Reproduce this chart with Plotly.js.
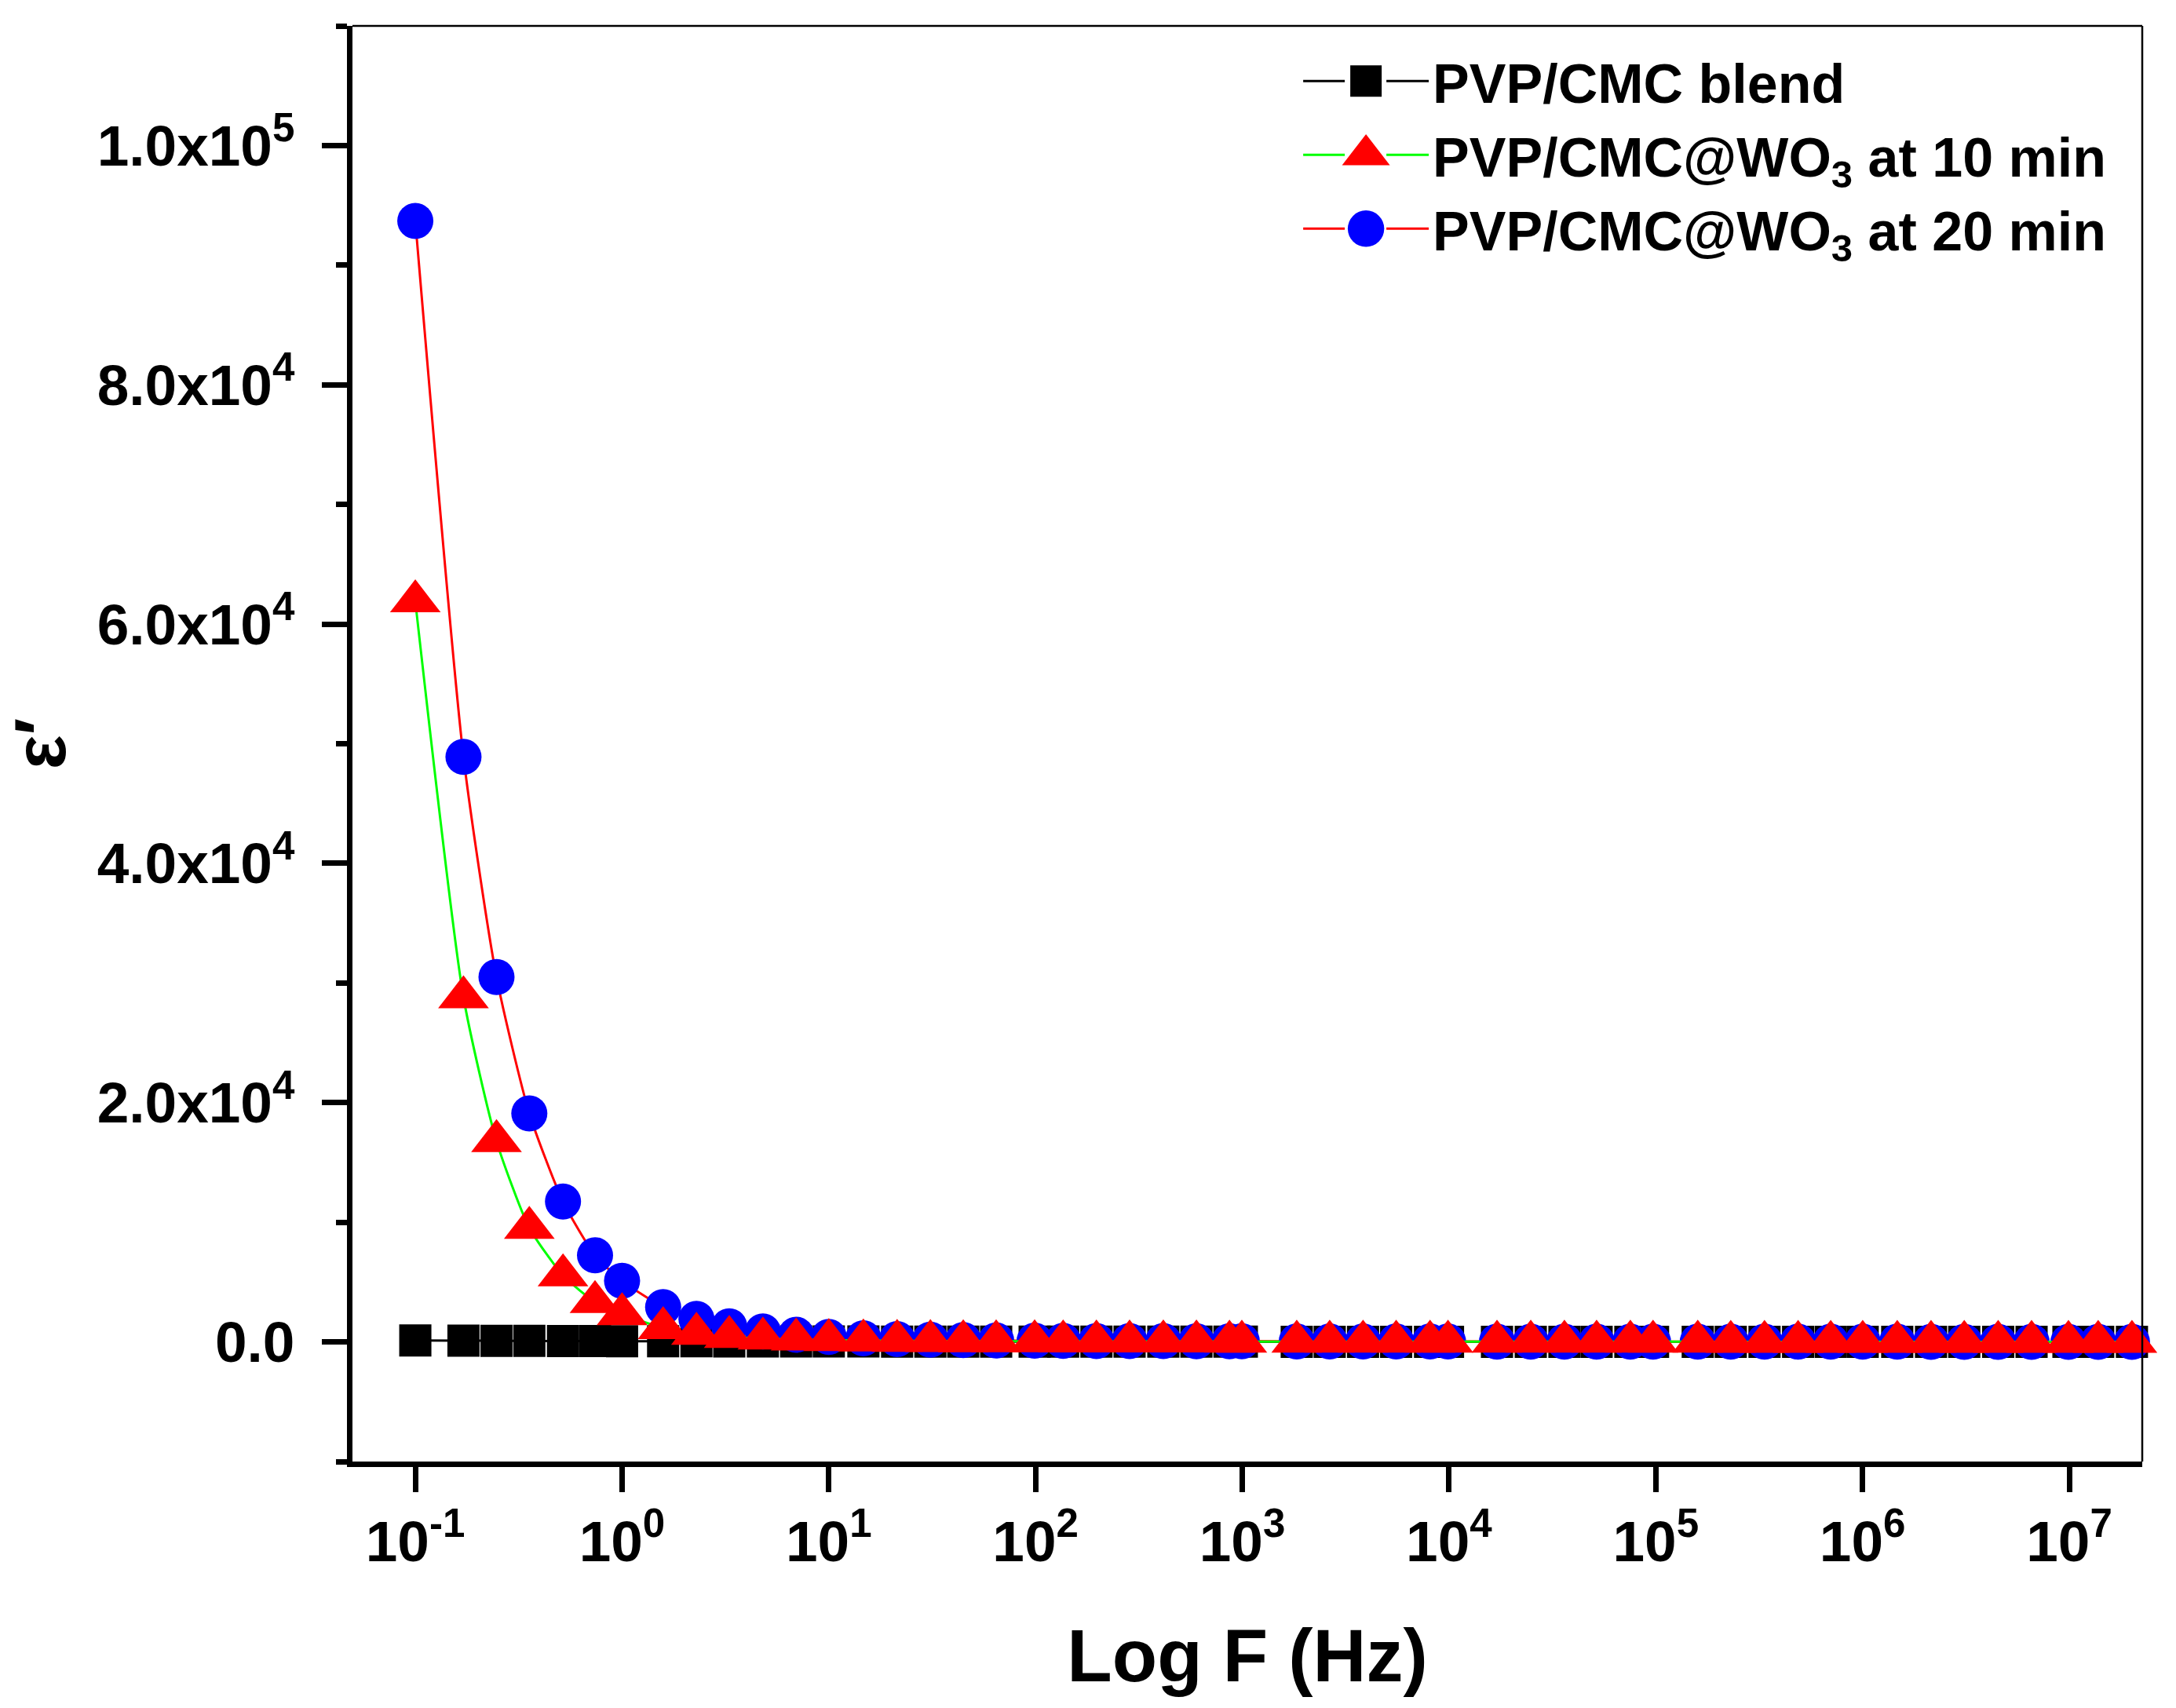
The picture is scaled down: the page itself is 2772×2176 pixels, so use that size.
<!DOCTYPE html>
<html>
<head>
<meta charset="utf-8">
<script src="https://cdn.plot.ly/plotly-3.0.1.min.js"></script>
<style>html,body{margin:0;padding:0;background:#fff;}</style>
</head>
<body>
<div id="chart" style="width:2772px;height:2176px;"></div>
<script>
// Frequency (Hz)
const freq = [0.1, 0.171, 0.247, 0.356, 0.518, 0.74, 1.0, 1.58, 2.29, 3.3, 4.8, 6.95, 10, 14.7, 21.4, 31, 44.7, 64.5, 99, 136, 197, 285, 415, 600, 867, 995, 1834, 2647, 3838, 5549, 8093, 9885, 17060, 24850, 36150, 51740, 75340, 97000, 159600, 230500, 335700, 488000, 701700, 1002000, 1472000, 2145000, 3105000, 4531000, 6572000, 9910000, 13800000, 20100000];

// epsilon' values
const blend = [120, 105, 92, 82, 74, 66, 60, 54, 48, 44, 40, 37, 34, 31, 29, 27, 25, 23, 21, 19, 18, 17, 16, 15, 14.5, 14, 13.5, 13, 12.5, 12, 11.6, 11.2, 10.8, 10.4, 10, 9.8, 9.6, 9.4, 9.1, 8.9, 8.7, 8.4, 8.2, 8, 7.8, 7.6, 7.4, 7.2, 7, 6.8, 6.6, 6.4];
const wo3_10 = [61900, 28800, 16780, 9540, 5560, 3330, 2320, 1160, 680, 415, 285, 200, 150, 115, 90, 75, 62, 54, 48, 44, 40, 37, 34, 32, 30, 29, 27, 25, 24, 23, 22, 21, 20, 19, 18, 17, 16, 15, 14, 13, 12, 11, 10.5, 10, 9.5, 9, 8.5, 8, 7.5, 7, 6.5, 6];
const wo3_20 = [93700, 48900, 30500, 19100, 11730, 7240, 5100, 2910, 1925, 1300, 880, 600, 420, 300, 230, 180, 145, 120, 100, 88, 78, 70, 63, 57, 53, 51, 45, 42, 39, 36, 34, 33, 30, 28, 26, 24, 23, 22, 20, 19, 18, 17, 16, 15, 14, 13, 12, 11, 10, 9, 8, 7];

const seriesNames = ['PVP/CMC blend', 'PVP/CMC@WO<sub>3</sub> at 10 min', 'PVP/CMC@WO<sub>3</sub> at 20 min'];

// Axis ticks
const xTickVals = [0.1, 1, 10, 100, 1000, 10000, 100000, 1000000, 10000000];
const xTickText = ['10<sup>-1</sup>', '10<sup>0</sup>', '10<sup>1</sup>', '10<sup>2</sup>', '10<sup>3</sup>', '10<sup>4</sup>', '10<sup>5</sup>', '10<sup>6</sup>', '10<sup>7</sup>'];
const yTickVals = [0, 20000, 40000, 60000, 80000, 100000];
const yTickText = ['0.0', '2.0x10<sup>4</sup>', '4.0x10<sup>4</sup>', '6.0x10<sup>4</sup>', '8.0x10<sup>4</sup>', '1.0x10<sup>5</sup>'];

const FONT = 'Liberation Sans, Arial, Helvetica, sans-serif';

const traces = [
  {
    x: freq, y: blend, name: seriesNames[0], type: 'scatter', mode: 'lines+markers',
    line: {color: '#000000', width: 3, shape: 'spline', smoothing: 0.6},
    marker: {symbol: 'square', size: 41, color: '#000000'},
    cliponaxis: false, legendrank: 1
  },
  {
    x: freq, y: wo3_20, name: seriesNames[2], type: 'scatter', mode: 'lines+markers',
    line: {color: '#FF0000', width: 3, shape: 'spline', smoothing: 0.6},
    marker: {symbol: 'circle', size: 46, color: '#0000FF'},
    cliponaxis: false, legendrank: 3
  },
  {
    x: freq, y: wo3_10, name: seriesNames[1], type: 'scatter', mode: 'lines+markers',
    line: {color: '#00FF00', width: 3, shape: 'spline', smoothing: 0.6},
    marker: {symbol: 'triangle-up', size: 56, color: '#FF0000'},
    cliponaxis: false, legendrank: 2
  }
];

const layout = {
  width: 2772, height: 2176,
  margin: {l: 449, r: 43, t: 33, b: 314, autoexpand: false},
  paper_bgcolor: '#ffffff', plot_bgcolor: '#ffffff',
  font: {family: FONT, color: '#000000', weight: 'bold'},
  showlegend: true,
  legend: {
    x: 0.529, y: 0.99, xanchor: 'left', yanchor: 'top',
    bgcolor: 'rgba(0,0,0,0)', borderwidth: 0,
    font: {family: FONT, size: 70, color: '#000000', weight: 'bold'},
    itemwidth: 160, tracegroupgap: 0
  },
  xaxis: {
    type: 'log', range: [-1.304, 7.353],
    tickmode: 'array', tickvals: xTickVals, ticktext: xTickText,
    ticks: 'outside', ticklen: 32, tickwidth: 7, tickcolor: '#000000',
    showline: true, linewidth: 7, linecolor: '#000000',
    showgrid: false, zeroline: false,
    tickfont: {family: FONT, size: 73, color: '#000000', weight: 'bold'},
    title: {text: 'Log F (Hz)', font: {family: FONT, size: 94, color: '#000000', weight: 'bold'}, standoff: 76}
  },
  yaxis: {
    range: [-10000, 110000],
    tickmode: 'array', tickvals: yTickVals, ticktext: yTickText,
    ticks: 'outside', ticklen: 32, tickwidth: 7, tickcolor: '#000000',
    minor: {tick0: 0, dtick: 10000, ticks: 'outside', ticklen: 14, tickwidth: 7, tickcolor: '#000000', showgrid: false},
    showline: true, linewidth: 7, linecolor: '#000000',
    showgrid: false, zeroline: false,
    tickfont: {family: FONT, size: 73, color: '#000000', weight: 'bold'},
    ticklabelstandoff: 20,
    title: {text: 'ε′', font: {family: FONT, size: 92, color: '#000000', weight: 'bold'}, standoff: 18}
  },
  shapes: [
    {type: 'line', xref: 'paper', yref: 'paper', x0: 0, x1: 1, y0: 1, y1: 1, line: {color: '#000000', width: 2.5}},
    {type: 'line', xref: 'paper', yref: 'paper', x0: 1, x1: 1, y0: 0, y1: 1, line: {color: '#000000', width: 2.5}}
  ]
};

Plotly.newPlot('chart', traces, layout, {displayModeBar: false, staticPlot: true}).then(function (gd) {
  // enlarge legend symbols (Plotly caps them at 16px) and leave a gap around them, as in the reference
  gd.querySelectorAll('.legend .traces').forEach(function (tr) {
    const t = tr.textContent;
    const s = t.indexOf('blend') >= 0 ? 2.5 : (t.indexOf('10 min') >= 0 ? 3.3 : 2.9);
    tr.querySelectorAll('.legendpoints path').forEach(function (p) {
      p.setAttribute('transform', (p.getAttribute('transform') || '') + ' scale(' + s + ')');
    });
    tr.querySelectorAll('.legendlines path').forEach(function (p) {
      p.style.strokeDasharray = '53,53,80';
    });
  });
});
</script>
</body>
</html>
